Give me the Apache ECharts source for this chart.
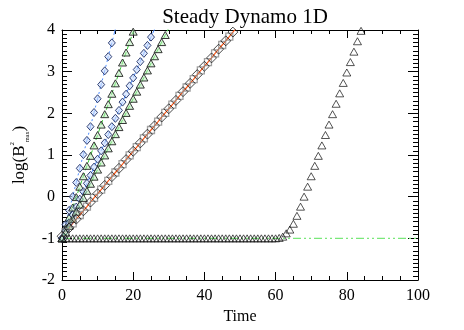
<!DOCTYPE html>
<html>
<head>
<meta charset="utf-8">
<script src="https://cdn.jsdelivr.net/npm/echarts@6/dist/echarts.min.js"></script>
<style>
  html, body { margin: 0; padding: 0; background: #fff; }
  #main { width: 464px; height: 330px; }
</style>
</head>
<body>
<div id="main"></div>
<script>
// 数据
var xTicks = [0, 20, 40, 60, 80, 100];
var yTicks = [-2, -1, 0, 1, 2, 3, 4];

var blueFastT = [0, 1, 2, 3, 4, 5, 6, 7, 8, 9, 10, 11, 12, 13, 14, 15];
var blueFastY = [-1.00, -0.67, -0.33, 0.00, 0.34, 0.68, 1.01, 1.35, 1.68, 2.02, 2.35, 2.69, 3.02, 3.36, 3.69, 4.03];

var greenFastT = [0, 1, 2, 3, 4, 5, 6, 7, 8, 9, 10, 11, 12, 13, 14, 15, 16, 17, 18, 19, 20];
var greenFastY = [-1.00, -0.75, -0.50, -0.26, -0.01, 0.24, 0.49, 0.74, 0.98, 1.23, 1.48, 1.73, 1.98, 2.22, 2.47, 2.72, 2.97, 3.22, 3.46, 3.71, 3.96];

var blueSlowT = [0, 1, 2, 3, 4, 5, 6, 7, 8, 9, 10, 11, 12, 13, 14, 15, 16, 17, 18, 19, 20, 21, 22, 23, 24, 25, 26];
var blueSlowY = [-1.00, -0.82, -0.63, -0.44, -0.25, -0.06, 0.12, 0.32, 0.51, 0.71, 0.90, 1.10, 1.29, 1.49, 1.68, 1.88, 2.07, 2.27, 2.46, 2.66, 2.85, 3.05, 3.24, 3.44, 3.63, 3.83, 4.02];

var greenSlowT = [0, 1, 2, 3, 4, 5, 6, 7, 8, 9, 10, 11, 12, 13, 14, 15, 16, 17, 18, 19, 20, 21, 22, 23, 24, 25, 26, 27, 28, 29, 30];
var greenSlowY = [-1.00, -0.86, -0.70, -0.53, -0.36, -0.19, -0.03, 0.14, 0.31, 0.48, 0.65, 0.82, 0.99, 1.16, 1.33, 1.50, 1.67, 1.84, 2.01, 2.18, 2.35, 2.52, 2.69, 2.86, 3.03, 3.20, 3.37, 3.54, 3.71, 3.88, 4.05];

var squareT = [0, 1, 2, 3, 4, 5, 6, 7, 8, 9, 10, 11, 12, 13, 14, 15, 16, 17, 18, 19, 20, 21, 22, 23, 24,
  25, 26, 27, 28, 29, 30, 31, 32, 33, 34, 35, 36, 37, 38, 39, 40, 41, 42, 43, 44, 45, 46, 47, 48, 49];
var squareY = [-0.95, -0.85, -0.75, -0.64, -0.54, -0.44, -0.34, -0.24, -0.13, -0.03, 0.07, 0.17, 0.27, 0.38, 0.48,
  0.58, 0.68, 0.78, 0.89, 0.99, 1.09, 1.19, 1.29, 1.40, 1.50, 1.60, 1.70, 1.80, 1.91, 2.01, 2.11, 2.21, 2.31,
  2.42, 2.52, 2.62, 2.72, 2.82, 2.93, 3.03, 3.13, 3.23, 3.33, 3.44, 3.54, 3.64, 3.74, 3.84, 3.95, 4.05];

var lateT = [0, 1, 2, 3, 4, 5, 6, 7, 8, 9, 10, 11, 12, 13, 14, 15, 16, 17, 18, 19, 20, 21, 22, 23, 24, 25, 26, 27, 28, 29,
  30, 31, 32, 33, 34, 35, 36, 37, 38, 39, 40, 41, 42, 43, 44, 45, 46, 47, 48, 49, 50, 51, 52, 53, 54, 55, 56, 57, 58, 59,
  60, 61, 62, 63, 64, 65, 66, 67, 68, 69, 70, 71, 72, 73, 74, 75, 76, 77, 78, 79, 80, 81, 82, 83, 84];
var lateY = [-1.00, -1.00, -1.00, -1.00, -1.00, -1.00, -1.00, -1.00, -1.00, -1.00, -1.00, -1.00, -1.00, -1.00, -1.00,
  -1.00, -1.00, -1.00, -1.00, -1.00, -1.00, -1.00, -1.00, -1.00, -1.00, -1.00, -1.00, -1.00, -1.00, -1.00,
  -1.00, -1.00, -1.00, -1.00, -1.00, -1.00, -1.00, -1.00, -1.00, -1.00, -1.00, -1.00, -1.00, -1.00, -1.00,
  -1.00, -1.00, -1.00, -1.00, -1.00, -1.00, -1.00, -1.00, -1.00, -1.00, -1.00, -1.00, -1.00, -1.00, -1.00,
  -1.00, -0.99, -0.96, -0.88, -0.79, -0.65, -0.46, -0.24, 0.00, 0.24, 0.49, 0.74, 0.98, 1.23, 1.48, 1.73,
  1.98, 2.23, 2.48, 2.73, 2.98, 3.23, 3.48, 3.73, 3.98];

var floorT = [0, 100];
var floorY = [-1.00, -1.00];

var pairs = function(t, y, parity) {
  var out = [];
  for (var i = 0; i < t.length; i++) {
    if (parity === undefined || i % 2 === parity) {
      out.push([t[i], y[i]]);
    }
  }
  return out;
};

var font = 'Liberation Serif';

var myChart = echarts.init(document.getElementById('main'), null, { renderer: 'canvas' });

var axisCommon = {
  axisLine: { show: true, onZero: false, lineStyle: { color: '#000', width: 1 } },
  splitLine: { show: false },
  minorSplitLine: { show: false }
};

var option = {
  animation: false,
  backgroundColor: '#fff',
  title: {
    text: 'Steady Dynamo 1D',
    left: 240,
    textAlign: 'center',
    top: 2,
    textStyle: { fontFamily: font, fontSize: 21, fontWeight: 'normal', color: '#000' }
  },
  grid: { left: 62, right: 46, top: 30, bottom: 50 },
  xAxis: [
    Object.assign({}, axisCommon, {
      type: 'value', min: 0, max: 100, interval: 20, position: 'bottom',
      name: 'Time', nameLocation: 'middle', nameGap: 28,
      nameTextStyle: { fontFamily: font, fontSize: 16, color: '#000' },
      axisTick: { show: true, inside: true, length: 8, lineStyle: { color: '#000' } },
      minorTick: { show: true, splitNumber: 4, length: 4, lineStyle: { color: '#000' } },
      axisLabel: { fontFamily: font, fontSize: 16, color: '#000', margin: 8,
        formatter: function(v) { return xTicks.indexOf(v) >= 0 ? String(v) : ''; } }
    }),
    Object.assign({}, axisCommon, {
      type: 'value', min: 0, max: 100, interval: 20, position: 'top',
      axisTick: { show: true, inside: true, length: 8, lineStyle: { color: '#000' } },
      minorTick: { show: true, splitNumber: 4, length: 4, lineStyle: { color: '#000' } },
      axisLabel: { show: false }
    })
  ],
  yAxis: [
    Object.assign({}, axisCommon, {
      type: 'value', min: -2, max: 4, interval: 1, position: 'left',
      name: 'log(B{sup|2}{sub|max})', nameLocation: 'middle', nameGap: 29, nameRotate: 90,
      nameTextStyle: {
        fontFamily: font, fontSize: 17, color: '#000', lineHeight: 22,
        rich: {
          sup: { fontFamily: font, fontSize: 7, color: '#000', verticalAlign: 'top', lineHeight: 22 },
          sub: { fontFamily: font, fontSize: 6, color: '#000', verticalAlign: 'bottom', lineHeight: 22 }
        }
      },
      axisTick: { show: true, inside: true, length: 10, lineStyle: { color: '#000' } },
      minorTick: { show: true, splitNumber: 10, length: 5, lineStyle: { color: '#000' } },
      axisLabel: { fontFamily: font, fontSize: 16, color: '#000', margin: 7,
        formatter: function(v) { return yTicks.indexOf(v) >= 0 ? String(v) : ''; } }
    }),
    Object.assign({}, axisCommon, {
      type: 'value', min: -2, max: 4, interval: 1, position: 'right',
      axisTick: { show: true, inside: true, length: 10, lineStyle: { color: '#000' } },
      minorTick: { show: true, splitNumber: 10, length: 5, lineStyle: { color: '#000' } },
      axisLabel: { show: false }
    })
  ],
  series: [
    {
      name: 'floor', type: 'line', data: pairs(floorT, floorY), showSymbol: false, z: 1,
      lineStyle: { color: '#7ae87a', width: 1.2, type: [8, 3, 2, 3, 2, 3] }
    },
    {
      name: 'blueFast', type: 'line', data: pairs(blueFastT, blueFastY), clip: true,
      symbol: 'diamond', symbolSize: [7, 8], z: 3,
      lineStyle: { color: '#4d8cff', width: 1, type: [6, 3, 2, 3] },
      itemStyle: { color: 'rgba(200,220,255,0.6)', borderColor: '#1e2f66', borderWidth: 0.9 }
    },
    {
      name: 'greenFast', type: 'line', data: pairs(greenFastT, greenFastY), clip: true,
      symbol: 'triangle', symbolSize: [8, 7], z: 3,
      lineStyle: { color: '#33cc33', width: 1, type: [5, 3] },
      itemStyle: { color: 'rgba(180,235,180,0.5)', borderColor: '#222', borderWidth: 0.9 }
    },
    {
      name: 'blueSlow', type: 'line', data: pairs(blueSlowT, blueSlowY), clip: true,
      symbol: 'diamond', symbolSize: [7, 8], z: 3,
      lineStyle: { color: '#4d8cff', width: 1, type: [5, 3] },
      itemStyle: { color: 'rgba(200,220,255,0.6)', borderColor: '#1e2f66', borderWidth: 0.9 }
    },
    {
      name: 'greenSlow', type: 'line', data: pairs(greenSlowT, greenSlowY), clip: true,
      symbol: 'triangle', symbolSize: [8, 7], z: 3,
      lineStyle: { color: '#33cc33', width: 1, type: [5, 3] },
      itemStyle: { color: 'rgba(180,235,180,0.5)', borderColor: '#222', borderWidth: 0.9 }
    },
    {
      name: 'squares', type: 'line', data: pairs(squareT, squareY), clip: true,
      showSymbol: false, z: 2,
      lineStyle: { color: '#ff5a1a', width: 1.2 }
    },
    {
      name: 'squareGray', type: 'scatter', data: pairs(squareT, squareY, 1), clip: true,
      symbol: 'rect', symbolSize: 7, z: 3,
      itemStyle: { color: 'rgba(0,0,0,0)', borderColor: '#8a8a8a', borderWidth: 1.3 }
    },
    {
      name: 'squareBlack', type: 'scatter', data: pairs(squareT, squareY, 0), clip: true,
      symbol: 'rect', symbolSize: 7, symbolRotate: 45, z: 3,
      itemStyle: { color: 'rgba(0,0,0,0)', borderColor: '#111', borderWidth: 0.9 }
    },
    {
      name: 'late', type: 'scatter', data: pairs(lateT, lateY), clip: true,
      symbol: 'triangle', symbolSize: [8, 7], z: 4,
      itemStyle: { color: 'rgba(255,255,255,0)', borderColor: '#111', borderWidth: 0.9 }
    }
  ]
};

myChart.setOption(option);
</script>
</body>
</html>
